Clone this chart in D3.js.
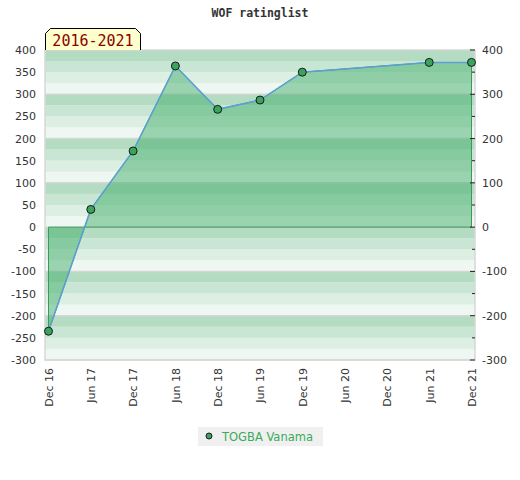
<!DOCTYPE html>
<html>
<head>
<meta charset="utf-8">
<script src="https://cdn.jsdelivr.net/npm/d3@7"></script>
<style>
  body { margin: 0; background: #fff; }
  svg { display: block; }
</style>
</head>
<body>
<svg id="chart"></svg>
<script>
// Data
var periods = ["Dec 16", "Jun 17", "Dec 17", "Jun 18", "Dec 18", "Jun 19",
               "Dec 19", "Jun 20", "Dec 20", "Jun 21", "Dec 21"];
var ratings = [-235, 40, 172, 364, 266, 287, 350, null, null, 372, 372];
var leftTicks = d3.range(-300, 401, 50);
var rightTicks = d3.range(-300, 401, 100);
var playerName = "TOGBA Vanama";
var titleText = "WOF ratinglist";
var rangeLabel = "2016-2021";

var W = 520, H = 480;
var plot = { left: 45, right: 475, top: 50, bottom: 360 };

var svg = d3.select("#chart").attr("width", W).attr("height", H);

var x = d3.scalePoint()
    .domain(periods)
    .range([48.5, 471.5]);

var y = d3.scaleLinear()
    .domain([-300, 400])
    .range([plot.bottom, plot.top]);

// plain hyphen for negatives, like the original
var fmt = function (d) { return String(d); };

// Striped background: 4 shades per 100 points
var stripeColors = ["#eef7f1", "#dcefe2", "#c8e6d3", "#b3dcc2"];
var stripes = d3.range(-300, 400, 25);
svg.append("g").selectAll("rect")
    .data(stripes)
    .enter().append("rect")
    .attr("x", plot.left)
    .attr("width", plot.right - plot.left)
    .attr("y", function (d) { return y(d + 25); })
    .attr("height", function (d) { return y(d) - y(d + 25); })
    .attr("fill", function (d) { return stripeColors[((d + 300) % 100) / 25]; });

// Horizontal grid every 100
svg.append("g").selectAll("line")
    .data(rightTicks)
    .enter().append("line")
    .attr("x1", plot.left).attr("x2", plot.right)
    .attr("y1", function (d) { return y(d); })
    .attr("y2", function (d) { return y(d); })
    .attr("stroke", "#d6d6d6")
    .attr("stroke-width", 1.5);

// frame
svg.append("path")
    .attr("d", "M" + plot.left + "," + plot.top + "V" + plot.bottom + "H" + plot.right + "V" + plot.top)
    .attr("fill", "none")
    .attr("stroke", "#d8d8d8")
    .attr("stroke-width", 1.5);

// Data points
var pts = periods.map(function (p, i) { return { p: p, v: ratings[i] }; })
    .filter(function (d) { return d.v !== null; });

var area = d3.area()
    .x(function (d) { return x(d.p); })
    .y0(y(0))
    .y1(function (d) { return y(d.v); });

svg.append("path")
    .datum(pts)
    .attr("d", area)
    .attr("fill", "rgb(60,169,100)")
    .attr("fill-opacity", 0.47)
    .attr("stroke", "#3a9a5a")
    .attr("stroke-width", 1);

var line = d3.line()
    .x(function (d) { return x(d.p); })
    .y(function (d) { return y(d.v); });

svg.append("path")
    .datum(pts)
    .attr("d", line)
    .attr("fill", "none")
    .attr("stroke", "#5b9fd6")
    .attr("stroke-width", 1.5);

svg.append("g").selectAll("circle")
    .data(pts)
    .enter().append("circle")
    .attr("cx", function (d) { return x(d.p); })
    .attr("cy", function (d) { return y(d.v); })
    .attr("r", 4)
    .attr("fill", "#3aa35c")
    .attr("stroke", "#1a1a1a")
    .attr("stroke-width", 1);

// Left axis
var leftAxis = svg.append("g")
    .attr("transform", "translate(" + plot.left + ",0)")
    .call(d3.axisLeft(y).tickValues(leftTicks).tickFormat(fmt).tickSize(0).tickPadding(9));
leftAxis.select(".domain").remove();

// Right axis
var rightAxis = svg.append("g")
    .attr("transform", "translate(" + plot.right + ",0)")
    .call(d3.axisRight(y).tickValues(rightTicks).tickFormat(fmt).tickSize(0).tickPadding(7));
rightAxis.select(".domain").remove();

// right tick marks (major 100, minor 50)
svg.append("g").selectAll("line")
    .data(leftTicks)
    .enter().append("line")
    .attr("x1", function (d) { return d % 100 === 0 ? plot.right - 5 : plot.right - 3; })
    .attr("x2", plot.right)
    .attr("y1", function (d) { return y(d); })
    .attr("y2", function (d) { return y(d); })
    .attr("stroke", "#222")
    .attr("stroke-width", 1);

// Bottom axis
var bottomAxis = svg.append("g")
    .attr("transform", "translate(0," + plot.bottom + ")")
    .call(d3.axisBottom(x).tickSize(0).tickPadding(0));
bottomAxis.select(".domain").remove();
bottomAxis.selectAll("text")
    .attr("transform", "rotate(-90)")
    .attr("x", -8)
    .attr("y", 0)
    .attr("dy", "0.35em")
    .style("text-anchor", "end");

svg.selectAll(".tick text")
    .attr("fill", "#333")
    .style("font-family", "'DejaVu Sans', sans-serif")
    .style("font-size", "11px");

// Title
svg.append("text")
    .attr("x", 260)
    .attr("y", 17)
    .attr("text-anchor", "middle")
    .attr("fill", "#333")
    .style("font-family", "'DejaVu Sans Mono', monospace")
    .style("font-weight", "bold")
    .style("font-size", "11.5px")
    .text(titleText);

// Range label box with clipped corners
var bx0 = 45.5, bx1 = 140.5, by0 = 28.5, by1 = 50;
svg.append("path")
    .attr("d", "M" + bx0 + "," + by1 + "V" + (by0 + 5) + "L" + (bx0 + 5) + "," + by0 +
        "H" + (bx1 - 5) + "L" + bx1 + "," + (by0 + 5) + "V" + by1)
    .attr("fill", "#ffffcc")
    .attr("stroke", "#000")
    .attr("stroke-width", 1);
svg.append("text")
    .attr("x", 93)
    .attr("y", 46)
    .attr("text-anchor", "middle")
    .attr("fill", "#8b0000")
    .style("font-family", "'DejaVu Sans Mono', monospace")
    .style("font-size", "15px")
    .text(rangeLabel);

// Legend
var legend = svg.append("g");
legend.append("rect")
    .attr("x", 198).attr("y", 427)
    .attr("width", 125).attr("height", 19)
    .attr("fill", "#f0f0f0");
legend.append("circle")
    .attr("cx", 209).attr("cy", 436)
    .attr("r", 3)
    .attr("fill", "#3aa35c")
    .attr("stroke", "#1a1a1a")
    .attr("stroke-width", 1);
legend.append("text")
    .attr("x", 222).attr("y", 440.5)
    .attr("fill", "#3aaa5c")
    .style("font-family", "'DejaVu Sans', sans-serif")
    .style("font-size", "11.5px")
    .text(playerName);
</script>
</body>
</html>
